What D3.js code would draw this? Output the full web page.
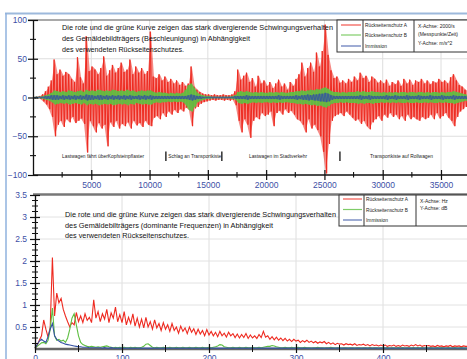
<!DOCTYPE html>
<html><head><meta charset="utf-8">
<script src="https://cdn.jsdelivr.net/npm/d3@7"></script>
<style>body{margin:0;background:#fff}svg{display:block}</style>
</head><body><svg id="c" width="467" height="359"></svg>
<script>
// ---------- DATA ----------
// Top chart: acceleration signal envelope per bin of 250 samples (max / |min|)
const binSize = 250;
const redHi = [1,1,2,4,8,14,22,49,30,36, 28,33,30,24,20,52,26,18,79,34, 40,36,30,38,53,28,35,42,32,38,
  45,33,36,49,30,40,32,38,30,34, 85,27,25,30,22,27,20,24,18,22, 16,20,15,18,40,14,10,7,5,4,
  4,3,4,3,3,4,3,3,4,8, 36,23,28,32,20,25,14,28,18,22, 15,20,12,18,23,14,18,10,20,15,
  24,30,45,27,38,45,33,58,40,60, 94,55,35,25,27,19,22,18,24,20, 27,22,32,25,28,20,27,24,19,22,
  18,23,15,20,17,22,15,24,18,23, 16,22,20,24,18,22,17,21,19,24, 20,22,18,26,30,22,16,14,10,8];
const redLo = [1,1,2,5,9,15,25,50,35,30, 38,28,32,25,33,30,27,34,71,30, 37,45,33,40,35,63,32,38,30,40,
  34,37,32,40,30,36,33,38,30,35, 37,26,24,28,20,25,18,22,16,20, 15,18,13,16,37,14,12,8,6,5,
  4,3,4,3,3,4,3,4,3,10, 30,45,28,35,52,30,25,28,20,24, 22,18,37,20,17,22,15,20,17,22,
  28,30,35,45,28,40,35,42,50,70, 98,60,30,24,22,20,24,18,22,26, 30,28,34,30,37,41,32,28,24,30,
  22,26,20,25,22,28,24,30,22,28, 25,28,30,25,28,26,22,28,20,27, 24,20,26,30,37,25,18,15,12,10];
const greenAmp = [1,1,1,2,3,4,6,9,8,7, 8,7,9,8,7,8,9,7,10,8, 9,8,10,9,8,9,8,10,9,8,
  9,8,10,8,9,7,8,9,8,9, 9,7,6,7,6,6,5,6,5,6, 5,6,10,16,18,12,6,4,3,2,
  2,1,1,1,1,1,1,1,2,3, 7,8,7,8,7,6,7,6,7,6, 6,7,6,7,6,7,6,6,7,7,
  8,8,9,8,9,10,9,11,10,12, 13,11,8,7,7,6,7,6,7,7, 7,8,7,8,7,7,8,7,7,6,
  7,6,7,6,7,6,7,7,6,7, 7,6,7,7,6,7,6,7,7,6, 7,6,7,7,8,7,6,5,4,4];
const blueAmp = [1,1,1,1,2,2,3,3,3,2, 3,2,3,2,3,2,3,2,4,3, 3,2,3,3,2,3,2,3,2,3,
  2,3,2,3,2,2,3,2,3,2, 3,2,2,2,2,2,2,2,2,2, 2,2,2,3,4,3,2,2,1,1,
  1,1,1,1,1,1,1,1,1,2, 2,2,2,3,2,2,2,2,2,2, 2,2,2,2,3,2,2,2,2,2,
  3,2,3,3,4,3,4,4,5,5, 6,5,3,2,2,2,2,2,2,2, 2,2,3,2,2,3,2,2,2,2,
  2,3,2,2,3,2,2,2,3,2, 2,2,3,2,2,2,3,2,2,2, 3,2,2,2,3,2,2,2,2,2];
const topYTicks = [100, 50, 0, -50, -100];
const topXTicks = [5000, 10000, 15000, 20000, 25000, 30000, 35000];
const eventLabels = ["Lastwagen fährt überKopfsteinpflaster", "Schlag an Transportkiste", "Lastwagen im Stadtverkehr", "Transportkiste auf Rollwagen"];
const eventStarts = [2490, 11600, 18530, 28910];
const eventWidths = [82, 53, 58, 63];
const eventBars = [11400, 16200, 26330];

// Bottom chart: spectrum, one value every 2.5 Hz
const specStep = 2.5;
const specRed = [0.02,0.08,0.2,0.3,0.66,0.45,0.27,0.5,2.08,0.75, 1.27,1.05,1.15,0.9,0.75,0.62,0.5,0.6,0.55,0.83,
  0.62,0.75,0.6,0.8,0.65,0.72,0.6,1.12,0.7,0.85, 0.62,0.8,0.68,0.9,0.6,0.82,0.7,0.95,0.62,0.78,
  0.6,0.85,0.55,0.72,0.58,0.8,0.52,0.7,0.5,0.68, 0.48,0.72,0.5,0.62,0.45,0.66,0.48,0.58,0.42,0.6,
  0.45,0.55,0.4,0.58,0.42,0.5,0.36,0.52,0.4,0.48, 0.35,0.5,0.38,0.46,0.33,0.45,0.34,0.42,0.3,0.44,
  0.32,0.4,0.3,0.38,0.28,0.4,0.3,0.36,0.27,0.38, 0.3,0.35,0.26,0.34,0.25,0.33,0.26,0.35,0.24,0.32,
  0.25,0.3,0.24,0.33,0.26,0.4,0.27,0.3,0.22,0.28, 0.21,0.27,0.2,0.25,0.19,0.24,0.18,0.22,0.17,0.22,
  0.18,0.2,0.15,0.19,0.16,0.2,0.15,0.18,0.14,0.17, 0.13,0.16,0.14,0.17,0.12,0.15,0.11,0.14,0.1,0.13,
  0.11,0.12,0.09,0.12,0.1,0.11,0.09,0.12,0.08,0.1, 0.09,0.11,0.08,0.1,0.07,0.1,0.08,0.09,0.07,0.09,
  0.07,0.09,0.06,0.08,0.07,0.09,0.06,0.08,0.06,0.09, 0.07,0.08,0.06,0.09,0.07,0.1,0.07,0.09,0.06,0.08,
  0.07,0.08,0.06,0.07,0.05,0.08,0.06,0.07,0.05,0.07, 0.06,0.08,0.05,0.07,0.06,0.07,0.05,0.07,0.06,0.06];
const specGreen = [0.02,0.06,0.1,0.14,0.15,0.12,0.2,0.45,0.93,0.3, 0.2,0.22,0.18,0.2,0.15,0.25,0.45,0.7,0.8,0.55,
  0.3,0.15,0.1,0.08,0.06,0.05,0.06,0.05,0.04,0.05, 0.04,0.05,0.06,0.07,0.05,0.04,0.03,0.04,0.03,0.04,
  0.03,0.04,0.03,0.03,0.04,0.03,0.04,0.03,0.03,0.04, 0.06,0.11,0.12,0.08,0.04,0.03,0.04,0.03,0.03,0.04,
  0.03,0.03,0.04,0.03,0.03,0.04,0.03,0.03,0.04,0.03, 0.03,0.04,0.03,0.03,0.04,0.03,0.03,0.04,0.03,0.03,
  0.04,0.03,0.04,0.05,0.07,0.1,0.09,0.05,0.04,0.03, 0.03,0.04,0.03,0.03,0.04,0.03,0.03,0.04,0.03,0.03,
  0.04,0.03,0.03,0.04,0.03,0.04,0.05,0.06,0.06,0.08, 0.07,0.05,0.04,0.03,0.03,0.04,0.03,0.03,0.04,0.03,
  0.03,0.04,0.03,0.03,0.04,0.03,0.03,0.02,0.03,0.03, 0.04,0.03,0.03,0.02,0.03,0.03,0.04,0.03,0.02,0.03,
  0.03,0.02,0.03,0.03,0.02,0.03,0.03,0.02,0.03,0.03, 0.02,0.03,0.03,0.02,0.03,0.02,0.03,0.03,0.02,0.03,
  0.03,0.02,0.03,0.02,0.03,0.03,0.02,0.03,0.02,0.03, 0.02,0.03,0.03,0.02,0.03,0.02,0.03,0.02,0.03,0.02,
  0.03,0.02,0.03,0.02,0.02,0.03,0.02,0.03,0.02,0.02, 0.03,0.02,0.02,0.03,0.02,0.02,0.03,0.02,0.02,0.02];
const specBlue = [0.02,0.1,0.18,0.22,0.18,0.15,0.28,0.45,0.58,0.3, 0.22,0.18,0.15,0.13,0.11,0.1,0.09,0.08,0.07,0.06,
  0.05,0.05,0.04,0.04,0.04,0.03,0.03,0.03,0.03,0.03, 0.03,0.02,0.03,0.02,0.02,0.03,0.02,0.02,0.02,0.02,
  0.02,0.02,0.02,0.02,0.02,0.02,0.02,0.02,0.02,0.02, 0.02,0.02,0.02,0.02,0.02,0.02,0.02,0.02,0.02,0.02,
  0.02,0.02,0.02,0.02,0.02,0.02,0.02,0.02,0.02,0.02, 0.02,0.02,0.02,0.02,0.02,0.02,0.02,0.02,0.02,0.02,
  0.02,0.02,0.02,0.02,0.02,0.02,0.02,0.02,0.02,0.02, 0.02,0.02,0.02,0.02,0.02,0.02,0.02,0.02,0.02,0.02,
  0.02,0.02,0.02,0.02,0.02,0.02,0.02,0.02,0.02,0.02, 0.02,0.02,0.02,0.02,0.02,0.02,0.02,0.02,0.02,0.02,
  0.02,0.02,0.02,0.02,0.02,0.02,0.02,0.02,0.02,0.02, 0.02,0.02,0.02,0.02,0.02,0.02,0.02,0.02,0.02,0.02,
  0.02,0.02,0.02,0.02,0.02,0.02,0.02,0.02,0.02,0.02, 0.02,0.02,0.02,0.02,0.02,0.02,0.02,0.02,0.02,0.02,
  0.02,0.02,0.02,0.02,0.02,0.02,0.02,0.02,0.02,0.02, 0.02,0.02,0.02,0.02,0.02,0.02,0.02,0.02,0.02,0.02,
  0.02,0.02,0.02,0.02,0.02,0.02,0.02,0.02,0.02,0.02, 0.02,0.02,0.02,0.02,0.02,0.02,0.02,0.02,0.02,0.02];
const botYTicks = [0.5, 1, 1.5, 2, 2.5, 3, 3.5];
const botXTicks = [0, 100, 200, 300, 400];

const seriesNames = ["Rückseitenschutz A", "Rückseitenschutz B", "Immission"];
const seriesColors = ["#ee2a20", "#5fbf42", "#3451a4"];
const topNote = ["Die rote und die grüne Kurve zeigen das stark divergierende Schwingungsverhalten",
  "des Gemäldebildträgers (Beschleunigung) in Abhängigkeit", "des verwendeten Rückseitenschutzes."];
const botNote = ["Die rote und die grüne Kurve zeigen das stark divergierende Schwingungsverhalten",
  "des Gemäldebilträgers (dominante Frequenzen) in Abhängigkeit", "des verwendeten Rückseitenschutzes."];
const topAxisInfo = ["X-Achse: 2000/s", "(Messpunkte/Zeit)", "Y-Achse: m/s^2"];
const botAxisInfo = ["X-Achse: Hz", "Y-Achse: dB"];

// ---------- DRAW ----------
const FONT = '"Liberation Sans", Arial, Helvetica, sans-serif';
const TICKBLUE = "#3d4fa6";
const svg = d3.select("#c").style("font-family", FONT);

svg.append("line").attr("x1", 5).attr("x2", 467).attr("y1", 13.5).attr("y2", 13.5).attr("stroke", "#9db9dc").attr("stroke-width", 2);
svg.append("line").attr("x1", 6).attr("x2", 6).attr("y1", 13).attr("y2", 359).attr("stroke", "#8fb2de").attr("stroke-width", 1.5);

// ===== TOP CHART =====
const xT = d3.scaleLinear().domain([0, 35000]).range([33, 441]);
const yT = d3.scaleLinear().domain([-100, 100]).range([175, 20]);
const gTop = svg.append("g");
gTop.selectAll(null).data(topXTicks).join("line")
  .attr("x1", d => xT(d)).attr("x2", d => xT(d)).attr("y1", 20).attr("y2", 175)
  .attr("stroke", "#dedede").attr("stroke-width", 1);
gTop.selectAll(null).data([50, -50]).join("line")
  .attr("x1", 33).attr("x2", 467).attr("y1", d => yT(d)).attr("y2", d => yT(d))
  .attr("stroke", "#dedede").attr("stroke-width", 1);

function zig(hi, lo) {
  const pts = [];
  hi.forEach((h, i) => { pts.push([i * binSize + 60, h]); pts.push([i * binSize + 190, -lo[i]]); });
  return pts;
}
const lineT = d3.line().x(d => xT(d[0])).y(d => yT(d[1]));
const areaT = d3.area().x((d, i) => xT(i * binSize + 125)).y0(d => yT(-d[1])).y1(d => yT(d[0]));
function band(hi, lo, color, op, lw) {
  gTop.append("path").attr("d", areaT(hi.map((h, i) => [h, lo[i]]))).attr("fill", color).attr("fill-opacity", op);
  gTop.append("path").attr("d", lineT(zig(hi, lo))).attr("fill", "none").attr("stroke", color).attr("stroke-width", lw);
}
band(redHi, redLo, seriesColors[0], 0.55, 1);
band(greenAmp, greenAmp, seriesColors[1], 0.85, 0.9);
band(blueAmp, blueAmp, seriesColors[2], 0.55, 0.7);

gTop.append("line").attr("x1", 28).attr("x2", 467).attr("y1", yT(100)).attr("y2", yT(100)).attr("stroke", "#555").attr("stroke-width", 1);
const yAxT = gTop.append("g").attr("transform", "translate(33,0)")
  .call(d3.axisLeft(yT).tickValues(topYTicks).tickSize(5).tickSizeOuter(0).tickPadding(1).tickFormat(d3.format("d")));
yAxT.select(".domain").attr("stroke", "#111").attr("stroke-width", 1.3);
yAxT.selectAll(".tick line").attr("x1", 5).attr("stroke", "#111").attr("stroke-width", 1.2);
yAxT.selectAll(".tick text").attr("fill", TICKBLUE).style("font-size", "8.5px").style("font-family", FONT);
gTop.selectAll(null).data([75, 25, -25, -75]).join("line")
  .attr("x1", 30).attr("x2", 36).attr("y1", d => yT(d)).attr("y2", d => yT(d)).attr("stroke", "#111").attr("stroke-width", 1.1);
gTop.append("line").attr("x1", 33).attr("x2", 467).attr("y1", 175).attr("y2", 175).attr("stroke", "#111").attr("stroke-width", 1.3);
const xAxT = gTop.append("g").attr("transform", "translate(0,175)")
  .call(d3.axisBottom(xT).tickValues(topXTicks).tickSize(5).tickSizeOuter(0).tickPadding(2).tickFormat(d3.format("d")));
xAxT.select(".domain").remove();
xAxT.selectAll(".tick line").attr("y1", -5).attr("stroke", "#111").attr("stroke-width", 1.2);
xAxT.selectAll(".tick text").attr("fill", TICKBLUE).style("font-size", "8.5px").style("font-family", FONT);
gTop.selectAll(null).data([2500, 7500, 12500, 17500, 22500, 27500, 32500, 37500]).join("line")
  .attr("x1", d => xT(d)).attr("x2", d => xT(d)).attr("y1", 172).attr("y2", 177.5).attr("stroke", "#111").attr("stroke-width", 1.1);

gTop.selectAll(null).data(topNote).join("text")
  .attr("x", 62).attr("y", (d, i) => [29.5, 41, 51.5][i])
  .attr("textLength", (d, i) => [271, 188, 122][i]).attr("lengthAdjust", "spacingAndGlyphs")
  .style("font-size", "8px").attr("fill", "#111").text(d => d);
gTop.selectAll(null).data(eventLabels).join("text")
  .attr("x", (d, i) => xT(eventStarts[i])).attr("y", 158)
  .attr("textLength", (d, i) => eventWidths[i]).attr("lengthAdjust", "spacingAndGlyphs")
  .style("font-size", "5px").attr("fill", "#222").text(d => d);
gTop.selectAll(null).data(eventBars).join("line")
  .attr("x1", d => xT(d)).attr("x2", d => xT(d)).attr("y1", 151.5).attr("y2", 161)
  .attr("stroke", "#111").attr("stroke-width", 1.3);

function legend(g, x0, y0, h, xDiv1, xDiv2, ys, info, infoYs) {
  g.append("rect").attr("x", x0).attr("y", y0).attr("width", 470 - x0).attr("height", h)
    .attr("fill", "#fff").attr("stroke", "#333").attr("stroke-width", 1);
  g.append("line").attr("x1", xDiv1).attr("x2", xDiv1).attr("y1", y0).attr("y2", y0 + h).attr("stroke", "#333");
  g.append("line").attr("x1", xDiv2).attr("x2", xDiv2).attr("y1", y0).attr("y2", y0 + h).attr("stroke", "#333");
  g.selectAll(null).data(seriesNames).join("line")
    .attr("x1", x0 + 4).attr("x2", xDiv1 - 2).attr("y1", (d, i) => ys[i]).attr("y2", (d, i) => ys[i])
    .attr("stroke", (d, i) => seriesColors[i]).attr("stroke-width", 1.2).attr("stroke-opacity", 0.8);
  g.selectAll(null).data(seriesNames).join("text")
    .attr("x", xDiv1 + 2).attr("y", (d, i) => ys[i] + 2)
    .attr("textLength", (d, i) => i < 2 ? 42 : 22).attr("lengthAdjust", "spacingAndGlyphs")
    .style("font-size", "5px").attr("fill", "#222").text(d => d);
  g.selectAll(null).data(info).join("text")
    .attr("x", xDiv2 + 4).attr("y", (d, i) => infoYs[i])
    .style("font-size", "5px").attr("fill", "#222").text(d => d);
}
legend(svg.append("g"), 337, 20, 32, 363, 414, [25, 35, 46], topAxisInfo, [28, 36, 44.5]);

// ===== BOTTOM CHART =====
const xB = d3.scaleLinear().domain([0, 400]).range([35, 383]);
const yB = d3.scaleLinear().domain([0, 3.5]).range([349, 195]);
const gBot = svg.append("g");
gBot.selectAll(null).data([100, 200, 300, 400]).join("line")
  .attr("x1", d => xB(d)).attr("x2", d => xB(d)).attr("y1", 195).attr("y2", 349)
  .attr("stroke", "#dedede");
gBot.selectAll(null).data([0.5, 1, 1.5, 2, 2.5, 3]).join("line")
  .attr("x1", 35).attr("x2", 467).attr("y1", d => yB(d)).attr("y2", d => yB(d))
  .attr("stroke", "#e2e2e2");
gBot.append("line").attr("x1", 35).attr("x2", 467).attr("y1", 349).attr("y2", 349).attr("stroke", "#666").attr("stroke-width", 2.5);
const lineB = d3.line().x((d, i) => xB(i * specStep)).y(d => yB(d));
gBot.append("path").attr("d", lineB(specRed)).attr("fill", "none").attr("stroke", seriesColors[0]).attr("stroke-width", 1.1);
gBot.append("path").attr("d", lineB(specGreen)).attr("fill", "none").attr("stroke", seriesColors[1]).attr("stroke-width", 1.1);
gBot.append("path").attr("d", lineB(specBlue)).attr("fill", "none").attr("stroke", seriesColors[2]).attr("stroke-width", 1.1);
gBot.append("line").attr("x1", 33).attr("x2", 467).attr("y1", 194.5).attr("y2", 194.5).attr("stroke", "#777").attr("stroke-width", 2.5);
const yAxB = gBot.append("g").attr("transform", "translate(35,0)")
  .call(d3.axisLeft(yB).tickValues(botYTicks).tickSize(5).tickSizeOuter(0).tickPadding(3).tickFormat(d => d));
yAxB.select(".domain").attr("stroke", "#111").attr("stroke-width", 1.3);
yAxB.selectAll(".tick line").attr("x1", 5).attr("stroke", "#111").attr("stroke-width", 1.2);
yAxB.selectAll(".tick text").attr("fill", TICKBLUE).style("font-size", "8.5px").style("font-family", FONT);
gBot.selectAll(null).data(d3.range(1, 28).map(i => i * 0.125).filter(v => Math.abs(v * 2 - Math.round(v * 2)) > 1e-6)).join("line")
  .attr("x1", 32).attr("x2", 38).attr("y1", d => yB(d)).attr("y2", d => yB(d)).attr("stroke", "#111").attr("stroke-width", 1);
const xAxB = gBot.append("g").attr("transform", "translate(0,349)")
  .call(d3.axisBottom(xB).tickValues(botXTicks).tickSize(4).tickSizeOuter(0).tickPadding(2));
xAxB.select(".domain").remove();
xAxB.selectAll(".tick line").attr("y1", -5).attr("stroke", "#111").attr("stroke-width", 1.2);
xAxB.selectAll(".tick text").attr("fill", TICKBLUE).style("font-size", "8.5px").style("font-family", FONT);
gBot.selectAll(null).data([50, 150, 250, 350, 450]).join("line")
  .attr("x1", d => xB(d)).attr("x2", d => xB(d)).attr("y1", 345).attr("y2", 352).attr("stroke", "#111").attr("stroke-width", 1);

gBot.selectAll(null).data(botNote).join("text")
  .attr("x", 65).attr("y", (d, i) => [216.5, 227.5, 238][i])
  .attr("textLength", (d, i) => [271, 208, 124][i]).attr("lengthAdjust", "spacingAndGlyphs")
  .style("font-size", "8px").attr("fill", "#111").text(d => d);

legend(svg.append("g"), 339, 195, 31, 364, 416, [199, 209.5, 220], botAxisInfo, [203, 210]);
</script></body></html>
